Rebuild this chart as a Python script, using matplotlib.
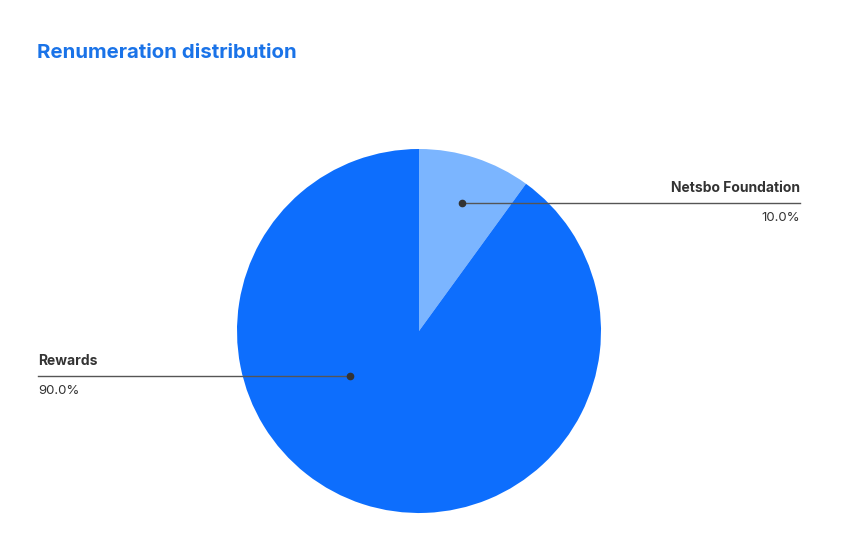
import matplotlib
matplotlib.use("Agg")
import matplotlib.pyplot as plt

labels = ["Netsbo Foundation", "Rewards"]
values = [10.0, 90.0]
colors = ["#7BB5FF", "#0D6EFD"]

plt.rcParams['font.family'] = ['Inter', 'DejaVu Sans']
W, H = 867, 555
fig = plt.figure(figsize=(W/100, H/100), dpi=100)
ax = fig.add_axes([0, 0, 1, 1])
cx, cy, r = 419, H-331, 182
ax.pie(values, colors=colors, startangle=90, counterclock=False, center=(cx, cy), radius=r, frame=True)
ax.set_xlim(0, W); ax.set_ylim(0, H); ax.set_aspect('equal'); ax.axis('off')

fig.text(37/W, 1-53/H, "Renumeration distribution", color="#1A73E8", fontsize=14.7,
         fontweight='bold', va='center', ha='left')

# Netsbo
y = H-203
ax.plot([462, 800], [y, y], color="#555555", lw=1)
ax.plot(462, y, 'o', color="#333333", ms=4.5)
ax.text(800, H-188, f"{labels[0]}", ha='right', va='center', fontsize=10, fontweight='bold', color="#333333")
ax.text(800, H-218, f"{values[0]:.1f}%", ha='right', va='center', fontsize=9.5, color="#333333")
# Rewards
y = H-376
ax.plot([38, 350], [y, y], color="#555555", lw=1)
ax.plot(350, y, 'o', color="#333333", ms=4.5)
ax.text(38, H-361, f"{labels[1]}", ha='left', va='center', fontsize=10, fontweight='bold', color="#333333")
ax.text(38, H-391, f"{values[1]:.1f}%", ha='left', va='center', fontsize=9.5, color="#333333")

fig.savefig("out.png", dpi=100, facecolor='white')
